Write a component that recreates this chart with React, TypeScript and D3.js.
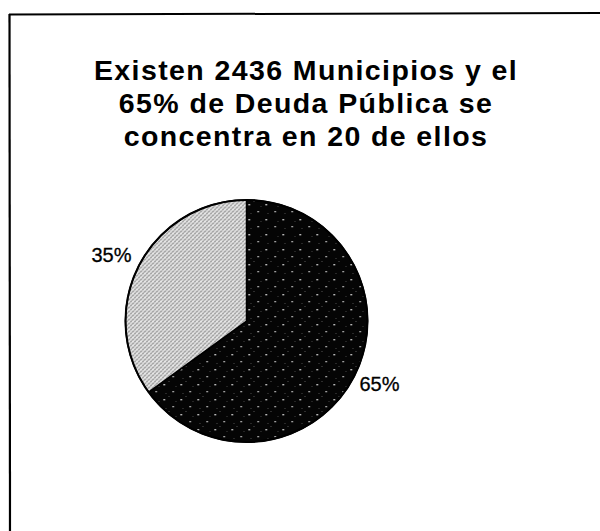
import React from "react";
import * as d3 from "d3";

const titleLines = ["Existen 2436 Municipios y el", "65% de Deuda Pública se", "concentra en 20 de ellos"];
const categories = ["20 Municipios", "Resto"];
const values = [65, 35];
const labels = ["65%", "35%"];
const fills = ["url(#darkTex)", "url(#lightTex)"];

const W = 600;
const H = 531;
const cx = 246.5;
const cy = 321;
const R = 121;

export default function App() {
  const pie = d3.pie<number>().sort(null).value((d) => d);
  const arcs = pie(values);
  const arc = d3.arc<d3.PieArcDatum<number>>().innerRadius(0).outerRadius(R);
  const labelOffsets = [
    { dx: 133, dy: 70 },
    { dx: -135, dy: -59 },
  ];
  return (
    <svg width={W} height={H} style={{ position: "absolute", left: 0, top: 0, background: "#fff" }}>
      <defs>
        <pattern id="darkTex" width="17" height="15" patternUnits="userSpaceOnUse">
          <rect width="17" height="15" fill="#050505" />
          <rect x="2" y="3" width="1.4" height="1.4" fill="#fff" />
          <rect x="11" y="10" width="1.3" height="1.3" fill="#eee" />
          <rect x="7" y="0" width="1" height="1" fill="#555" />
          <rect x="14" y="5" width="1" height="1" fill="#444" />
          <rect x="4" y="12" width="1" height="1" fill="#4a4a4a" />
        </pattern>
        <pattern id="lightTex" width="4" height="4" patternUnits="userSpaceOnUse">
          <rect width="4" height="4" fill="#d8d8d8" />
          <rect x="0" y="0" width="1" height="1" fill="#7a7a7a" />
          <rect x="2" y="2" width="1" height="1" fill="#7a7a7a" />
          <rect x="1" y="3" width="1" height="1" fill="#9a9a9a" />
          <rect x="3" y="1" width="1" height="1" fill="#aaa" />
          <rect x="2" y="0" width="1" height="1" fill="#f4f4f4" />
        </pattern>
      </defs>
      <line x1={9} y1={14.5} x2={600} y2={13} stroke="#000" strokeWidth={2} />
      <line x1={9.5} y1={14} x2={10} y2={531} stroke="#000" strokeWidth={2.2} />
      <g fontFamily="'Liberation Sans', Arial, sans-serif" fontWeight="bold" fontSize={28.5} textAnchor="middle" fill="#000" letterSpacing={1.4}>
        {titleLines.map((t, i) => (
          <text key={i} x={306} y={79.5 + i * 33}>{t}</text>
        ))}
      </g>
      <g transform={`translate(${cx},${cy})`}>
        {arcs.map((a, i) => (
          <path key={categories[i]} d={arc(a) || ""} fill={fills[i]} stroke="#000" strokeWidth={1.5} />
        ))}
        <circle r={R} fill="none" stroke="#000" strokeWidth={2} />
      </g>
      <g fontFamily="'Liberation Sans', Arial, sans-serif" fontSize={20} textAnchor="middle" fill="#000" stroke="#000" strokeWidth={0.3}>
        {arcs.map((a, i) => (
          <text key={i} x={cx + labelOffsets[i].dx} y={cy + labelOffsets[i].dy}>{labels[i]}</text>
        ))}
      </g>
    </svg>
  );
}
